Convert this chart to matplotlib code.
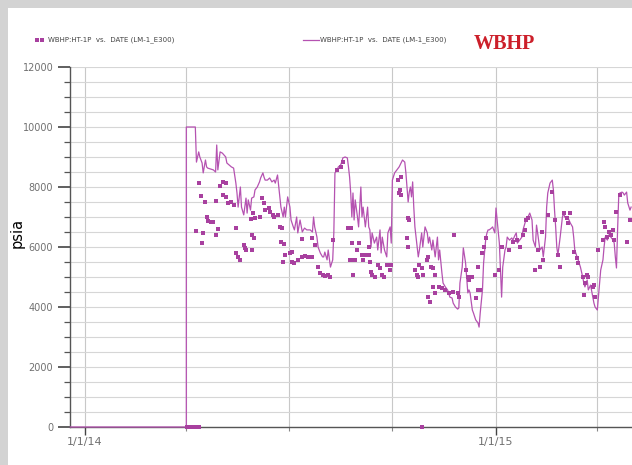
import pandas as pd
import matplotlib
matplotlib.use('Agg')
import matplotlib.pyplot as plt
import matplotlib.dates as mdates
from matplotlib.ticker import MultipleLocator
from matplotlib.patches import Rectangle

start = pd.Timestamp('2014-01-01')

# simulated WBHP (line): days after 1/1/14, psia
line_day = [-13, 90, 90, 98, 99, 101, 102, 104, 105, 107, 108, 109, 114, 116, 117, 118, 120, 122, 125, 126,
            130, 132, 134, 135, 136, 138, 139, 141, 143, 144, 145, 147, 148, 150, 151, 153, 155, 156, 158, 159,
            160, 162, 164, 166, 168, 169, 171, 173, 174, 176, 177, 178, 180, 182, 183, 185, 186, 188, 189, 191,
            193, 194, 195, 197, 200, 202, 203, 204, 206, 207, 209, 211, 212, 213, 215, 216, 218, 220, 221, 222,
            224, 225, 227, 228, 229, 231, 233, 234, 235, 236, 237, 238, 239, 240, 242, 243, 245, 246, 247, 249,
            251, 252, 253, 254, 255, 257, 259, 260, 262, 263, 264, 266, 268, 269, 271, 272, 273, 275, 277, 279,
            282, 284, 285, 287, 288, 289, 290, 291, 292, 293, 295, 296, 297, 299, 300, 302, 304, 305, 306, 308,
            309, 311, 313, 314, 315, 317, 318, 320, 322, 323, 324, 326, 327, 329, 331, 332, 333, 335, 336, 338,
            340, 341, 342, 344, 345, 347, 349, 350, 351, 353, 354, 356, 357, 358, 359, 361, 362, 364, 365, 366,
            368, 370, 371, 373, 374, 375, 377, 379, 380, 382, 383, 384, 386, 388, 389, 391, 392, 393, 395, 397,
            398, 400, 401, 402, 404, 406, 407, 409, 410, 411, 413, 415, 416, 417, 418, 419, 420, 422, 424, 425,
            426, 428, 429, 431, 433, 434, 435, 437, 438, 440, 442, 443, 444, 446, 447, 449, 451, 452, 453, 455,
            456, 458, 460, 461, 462, 464, 465, 467, 469, 470, 471, 472, 473, 474, 475, 477, 478, 479, 481, 482,
            484, 485]
line_psia = [0, 0, 10000, 10000, 8830, 9170, 9000, 8800, 8470, 8900, 8670, 8630, 8570, 8500, 9400, 8570, 9170, 9130, 9000, 8800,
             8670, 8630, 8130, 7800, 7330, 8000, 7330, 7070, 7630, 7130, 7570, 7230, 7630, 7670, 7900, 8000, 8170, 8300, 8470, 8330,
             8230, 8230, 8300, 8170, 8230, 8130, 8400, 7670, 7330, 7000, 7330, 7000, 7670, 7330, 6900, 6670, 6570, 7000, 6470, 6900,
             6500, 6570, 6630, 6570, 6570, 6500, 7000, 6670, 6330, 6000, 5800, 5670, 5670, 5830, 5570, 5900, 5330, 5570, 6470, 8470,
             8570, 8670, 8730, 8830, 8970, 9000, 8970, 8670, 8330, 7800, 7000, 7800, 6900, 7570, 7000, 6670, 8000, 7000, 7330, 6670,
             7330, 6670, 6570, 6000, 6470, 6130, 6330, 5900, 6570, 5800, 6330, 5900, 5670, 6470, 6670, 6130, 8230, 8470, 8570, 8670,
             8900, 8830, 8470, 7500, 7830, 8000, 7670, 8170, 7330, 6670, 6000, 5670, 5900, 6470, 6000, 6670, 6470, 6130, 6330, 5900,
             6230, 5670, 6330, 5570, 5900, 5130, 4800, 4670, 4570, 4470, 4330, 4300, 4130, 4000, 3930, 3970, 4800, 5330, 5970, 5470,
             4470, 4570, 4470, 3900, 3800, 3570, 3470, 3330, 3800, 4570, 5470, 6300, 6470, 6570, 6570, 6630, 6670, 6470, 7300, 6900,
             6130, 4330, 5330, 5900, 6000, 6330, 6230, 6300, 6230, 6400, 6470, 6130, 6230, 6330, 6570, 6830, 6900, 6970, 7130, 6900,
             6230, 6000, 6730, 6470, 5900, 6000, 5670, 6330, 7330, 7800, 8130, 8230, 7900, 7230, 6670, 6000, 5730, 6330, 7000, 7130,
             7000, 7000, 6970, 6800, 6670, 6330, 5900, 5670, 5570, 5330, 5000, 4800, 4670, 4900, 4570, 4730, 4330, 4130, 4000, 3900,
             4330, 5230, 5570, 6000, 6330, 6230, 6400, 6330, 6230, 6130, 5670, 5300, 6570, 7670, 7800, 7830, 7800, 7730, 7830, 7470,
             7230, 7330]

# observed WBHP (dots)
dot_day = [91, 93, 95, 97, 99, 101, 299,
           101, 103, 107, 116, 99, 105, 104, 108, 109, 112, 114, 118, 116, 120, 123, 125, 123, 125, 127, 130, 132,
           134, 134, 136, 138, 141, 142, 143, 148, 147, 149, 148, 150, 151, 155, 157, 159, 160, 163, 164, 167, 168,
           171, 173, 175, 174, 177, 176, 178, 182, 184, 186, 189, 193, 195, 198, 202, 193, 184, 202, 204, 207, 209,
           211, 213, 216, 218, 220, 224, 227, 229, 234, 236, 237, 235, 238, 240, 242, 243, 238, 246, 247, 249, 252,
           253, 252, 254, 255, 258, 260, 262, 264, 266, 268, 269, 271, 272, 278, 279, 281, 280, 281, 287, 288, 286,
           287, 297, 299, 293, 295, 296, 300, 304, 305, 307, 309, 311, 309, 311, 305, 306, 314, 317, 320, 323, 328,
           327, 331, 332, 338, 340, 341, 344, 347, 349, 349, 351, 353, 354, 356, 364, 368, 370, 377, 380, 384, 386,
           389, 391, 392, 393, 400, 404, 402, 406, 407, 411, 415, 417, 420, 422, 425, 428, 431, 429, 434, 437, 438,
           442, 443, 444, 446, 447, 451, 452, 453, 456, 460, 461, 462, 464, 465, 467, 469, 470, 472, 475, 481, 484]
dot_psia = [0, 0, 0, 0, 0, 0, 0,
            8130, 7700, 7500, 7530, 6530, 6470, 6130, 7000, 6870, 6830, 6830, 6600, 6400, 8030, 8170, 8130, 7730, 7670, 7470, 7500, 7400,
            6630, 5800, 5670, 5570, 6070, 5970, 5900, 5900, 6930, 7130, 6400, 6300, 6970, 7000, 7630, 7470, 7230, 7300, 7170, 7070, 7000,
            7070, 6670, 6630, 6170, 6100, 5500, 5730, 5800, 5500, 5470, 5570, 5670, 5700, 5670, 5670, 6270, 5830, 6300, 6070, 5330, 5130,
            5070, 5030, 5070, 5000, 6230, 8570, 8670, 8830, 6630, 6630, 6130, 5570, 5570, 5570, 5900, 6130, 5070, 5730, 5570, 5730, 5730,
            5500, 6000, 5170, 5070, 5000, 5400, 5300, 5070, 5000, 5400, 5400, 5230, 5400, 8230, 7800, 8330, 7900, 7730, 6970, 6900, 6300,
            6000, 5400, 5300, 5230, 5070, 5000, 5070, 5570, 5670, 5330, 5300, 5070, 4670, 4470, 4330, 4170, 4670, 4630, 4570, 4470, 6400,
            4500, 4470, 4330, 5230, 5000, 4900, 5000, 4300, 5330, 4570, 4570, 5800, 6000, 6300, 5070, 5230, 6000, 5900, 6170, 6230, 6000,
            6400, 6570, 6900, 6970, 5230, 5330, 5900, 6500, 5570, 7070, 7830, 6900, 5730, 5330, 7130, 6970, 7130, 6800, 5830, 5630, 5470,
            5000, 4400, 4800, 5070, 5000, 4670, 4730, 4330, 5900, 6230, 6830, 6670, 6330, 6500, 6400, 6570, 6230, 7170, 7730, 6170, 6900]

line_dates = start + pd.to_timedelta(line_day, unit='D')
dot_dates = start + pd.to_timedelta(dot_day, unit='D')

purple = '#b552b1'

fig = plt.figure(figsize=(6.32, 4.65), dpi=100, facecolor='#d3d3d3')
fig.patches.append(Rectangle((8 / 632, 0), 1, 1 - 8 / 465, transform=fig.transFigure,
                             facecolor='white', edgecolor='none', zorder=-10))

ax = fig.add_axes([70 / 632, 38 / 465, 562 / 632, 360 / 465])
ax.set_facecolor('white')

ax.plot(line_dates, line_psia, color=purple, lw=0.9, clip_on=False, zorder=3)
ax.scatter(dot_dates, dot_psia, marker='s', s=5, color='#a8409f', linewidths=0, clip_on=False, zorder=4)

ax.set_ylim(0, 12000)
ax.set_xlim(start - pd.Timedelta(days=13.3), start + pd.Timedelta(days=485.8))

ax.yaxis.set_major_locator(MultipleLocator(2000))
ax.yaxis.set_minor_locator(MultipleLocator(500))
ax.xaxis.set_major_locator(mdates.YearLocator())
ax.xaxis.set_minor_locator(mdates.MonthLocator(bymonth=[1, 4, 7, 10]))
ax.xaxis.set_major_formatter(plt.FuncFormatter(
    lambda v, p: '{d.month}/{d.day}/{y:02d}'.format(d=mdates.num2date(v), y=mdates.num2date(v).year % 100)))

ax.grid(True, which='both', axis='y', color='#d6d6d6', lw=0.8)
ax.grid(True, which='both', axis='x', color='#c8c8c8', lw=0.8)
ax.set_axisbelow(True)

for s in ['top', 'right']:
    ax.spines[s].set_visible(False)
for s in ['left', 'bottom']:
    ax.spines[s].set_color('#555555')
    ax.spines[s].set_linewidth(1.0)

ax.tick_params(axis='y', which='major', length=9, width=1.2, color='#444444', labelsize=7,
               labelcolor='#707070', pad=3)
ax.tick_params(axis='y', which='minor', length=4.5, width=0.9, color='#555555')
ax.tick_params(axis='x', which='major', length=6, width=1.0, color='#444444', labelsize=8,
               labelcolor='#707070', pad=1.5)
ax.tick_params(axis='x', which='minor', length=3, width=0.8, color='#888888')

fig.text(17 / 632, 1 - 233 / 465, 'psia', rotation=90, ha='center', va='center', fontsize=10.5, color='black')

# legend across the top
ly = 1 - 40 / 465
fig.add_artist(plt.Line2D([37 / 632, 42 / 632], [ly, ly], ls='none', marker='s', markersize=2.2,
                          markeredgewidth=0, color='#a8409f', transform=fig.transFigure))
fig.text(48 / 632, ly, 'WBHP:HT-1P  vs.  DATE (LM-1_E300)', color='#444444', fontsize=5.0, va='center', ha='left')
fig.add_artist(plt.Line2D([303 / 632, 319 / 632], [ly, ly], color=purple, lw=0.9, transform=fig.transFigure))
fig.text(320 / 632, ly, 'WBHP:HT-1P  vs.  DATE (LM-1_E300)', color='#444444', fontsize=5.0, va='center', ha='left')
fig.text(474 / 632, 1 - 44 / 465, 'WBHP', color='#cc1f2a', fontsize=14.5, fontweight='bold',
         family='Liberation Serif', va='center', ha='left')

fig.savefig('out.png', dpi=100, facecolor=fig.get_facecolor())
